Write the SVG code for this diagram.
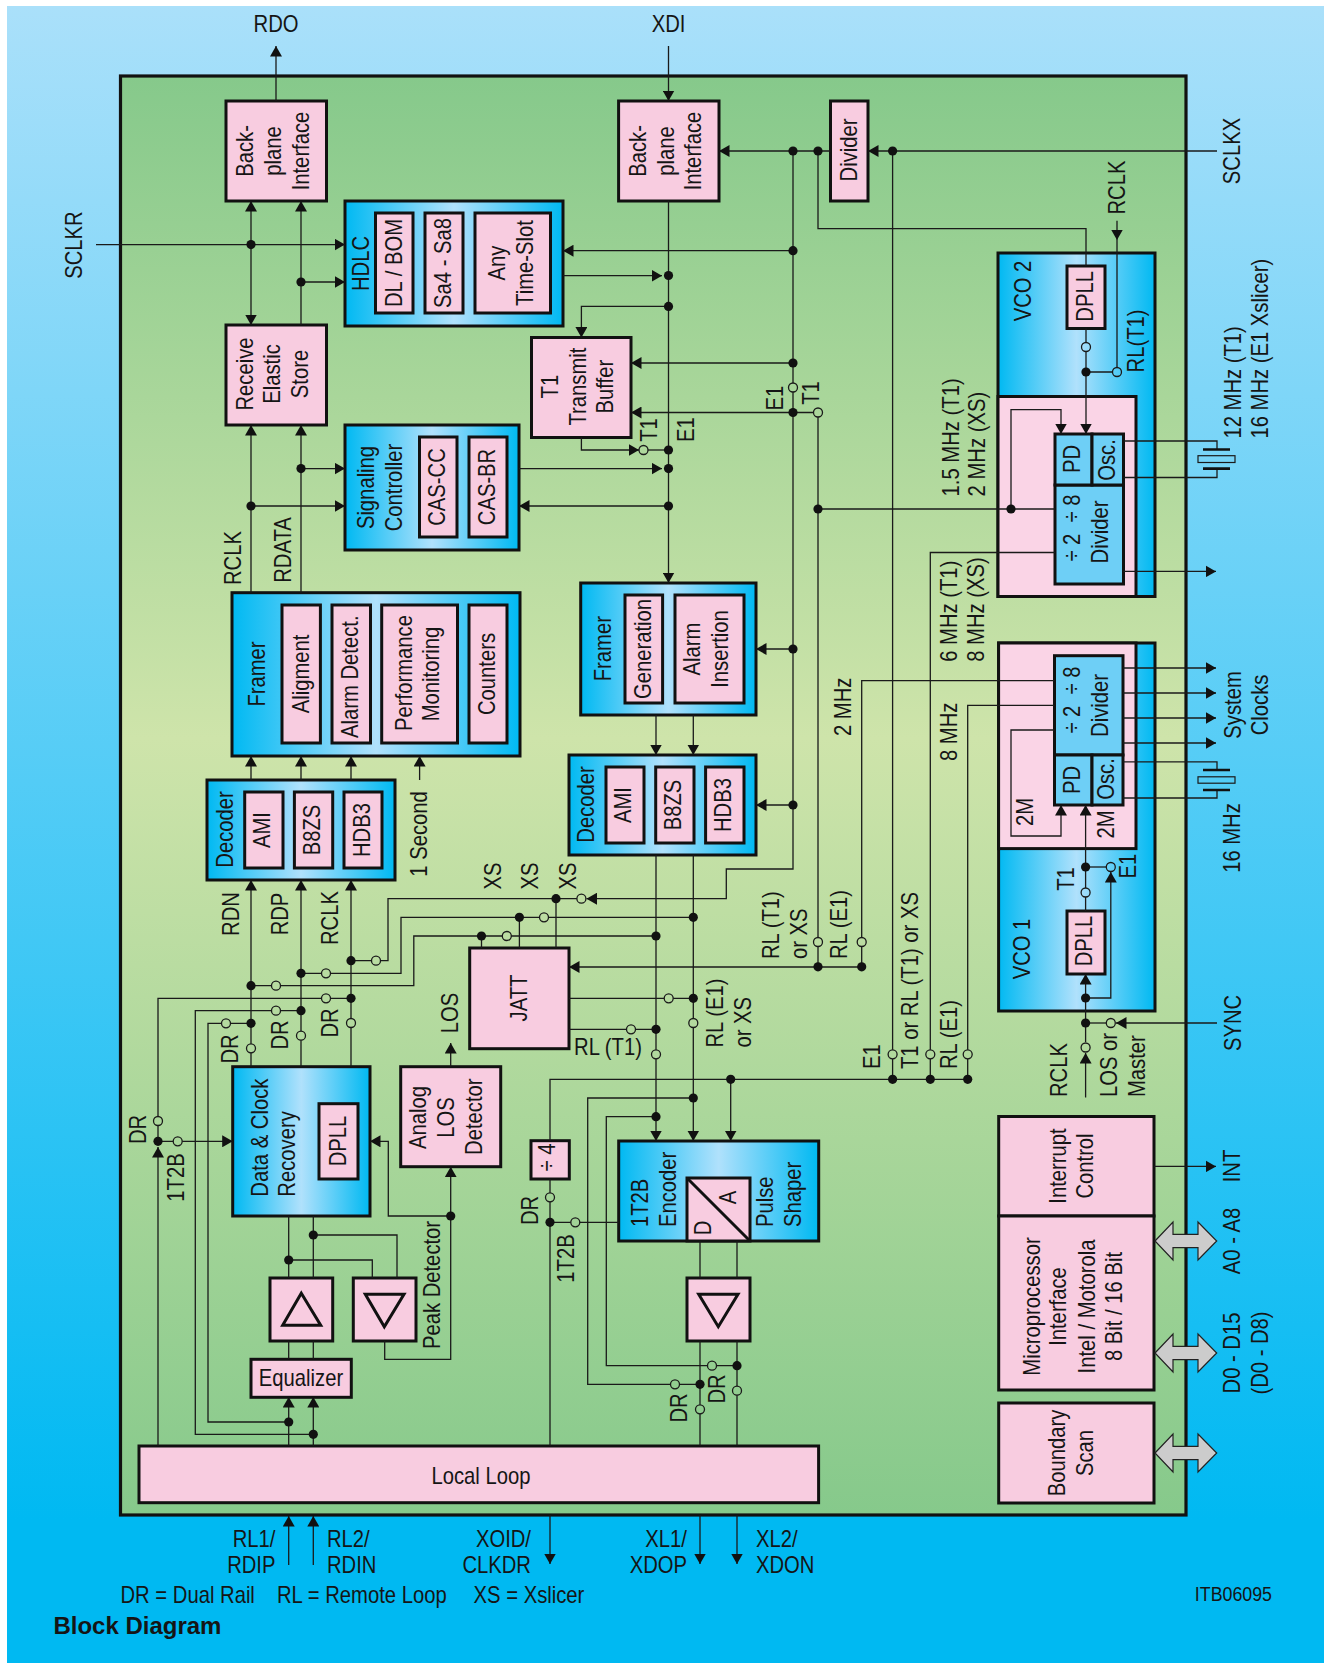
<svg xmlns="http://www.w3.org/2000/svg" width="1326" height="1663" viewBox="0 0 1326 1663">
<defs>
<linearGradient id="bgG" gradientUnits="userSpaceOnUse" x1="0" y1="6" x2="0" y2="1520"><stop offset="0" stop-color="#AAE0FA"/><stop offset="1" stop-color="#00B9F2"/></linearGradient>
<linearGradient id="mainG" gradientUnits="userSpaceOnUse" x1="0" y1="76" x2="0" y2="1515"><stop offset="0" stop-color="#86C98B"/><stop offset=".46" stop-color="#CEE4AA"/><stop offset="1" stop-color="#86C98B"/></linearGradient>
<linearGradient id="cyG"><stop offset="0" stop-color="#00B9F2"/><stop offset=".5" stop-color="#B0E1FC"/><stop offset="1" stop-color="#00B9F2"/></linearGradient>
<linearGradient id="vcoG" gradientUnits="userSpaceOnUse" x1="998" y1="0" x2="1155" y2="0"><stop offset="0" stop-color="#00B9F2"/><stop offset=".5" stop-color="#B0E1FC"/><stop offset="1" stop-color="#00B9F2"/></linearGradient>
<marker id="ah" markerUnits="userSpaceOnUse" markerWidth="11" markerHeight="12" refX="10.5" refY="6" orient="auto-start-reverse"><path d="M0 0L10.5 6L0 12z" fill="#111"/></marker>
<path id="dbl" d="M0 0L18 -19V-6.6H43V-19L61.7 0L43 19V6.6H18V19z" fill="#CCC" stroke="#222" stroke-width="1.2"/>
</defs>
<style>
.b{fill:#F8CCE0;stroke:#111;stroke-width:3}
.c{fill:url(#cyG);stroke:#111;stroke-width:3}
.p{fill:#FAD4E6;stroke:#111;stroke-width:3}
.u{fill:#6ECFF6;stroke:#111;stroke-width:3}
.tri{fill:none;stroke:#111;stroke-width:3}
text{font-family:"Liberation Sans",Arial,Helvetica,sans-serif;font-size:23px;fill:#151515}
.m{text-anchor:middle}
.e{text-anchor:end}
.l{fill:none;stroke:#1a1a1a;stroke-width:1.3}
.a{marker-end:url(#ah)}
.aa{marker-start:url(#ah);marker-end:url(#ah)}
.d{fill:#111}
.o{fill:url(#mainG);stroke:#1a1a1a;stroke-width:1.3}
.o2{fill:url(#vcoG);stroke:#1a1a1a;stroke-width:1.3}
.pl{fill:none;stroke:#111;stroke-width:2.6}
</style>
<rect x="7" y="6" width="1317" height="1657" fill="url(#bgG)"/>
<rect id="chip" x="120.5" y="76" width="1065.5" height="1439" fill="url(#mainG)" stroke="#111" stroke-width="3.2"/>

<g id="bp-r"><rect class="b" x="226" y="101" width="100.5" height="100"/>
<text class="m" transform="translate(253.4 151) rotate(-90) scale(.88 1)">Back-</text>
<text class="m" transform="translate(281.4 151) rotate(-90) scale(.88 1)">plane</text>
<text class="m" transform="translate(309.2 151) rotate(-90) scale(.88 1)">Interface</text></g>
<g id="hdlc"><rect class="c" x="345" y="201" width="218" height="125"/>
<text class="m" transform="translate(369.4 263.5) rotate(-90) scale(.88 1)">HDLC</text>
<rect class="b" x="375.5" y="213" width="37.5" height="100"/><rect class="b" x="425" y="213" width="38" height="100"/><rect class="b" x="475" y="213" width="75.5" height="100"/>
<text class="m" transform="translate(402.2 263) rotate(-90) scale(.88 1)">DL / BOM</text>
<text class="m" transform="translate(451.4 263) rotate(-90) scale(.88 1)">Sa4 - Sa8</text>
<text class="m" transform="translate(505.4 263) rotate(-90) scale(.88 1)">Any</text>
<text class="m" transform="translate(533.4 263) rotate(-90) scale(.88 1)">Time-Slot</text></g>
<g id="res"><rect class="b" x="226" y="325" width="100.5" height="100"/>
<text class="m" transform="translate(253.4 374) rotate(-90) scale(.88 1)">Receive</text>
<text class="m" transform="translate(280.4 374) rotate(-90) scale(.88 1)">Elastic</text>
<text class="m" transform="translate(308.4 374) rotate(-90) scale(.88 1)">Store</text></g>
<g id="sig"><rect class="c" x="345" y="425" width="174" height="125"/>
<rect class="b" x="419.5" y="437" width="37.5" height="100"/><rect class="b" x="469" y="437" width="38" height="100"/>
<text class="m" transform="translate(373.9 487.5) rotate(-90) scale(.88 1)">Signaling</text>
<text class="m" transform="translate(402.4 487.5) rotate(-90) scale(.88 1)">Controller</text>
<text class="m" transform="translate(445.4 487) rotate(-90) scale(.88 1)">CAS-CC</text>
<text class="m" transform="translate(495.4 487) rotate(-90) scale(.88 1)">CAS-BR</text></g>
<g id="t1buf"><rect class="b" x="531.5" y="337.5" width="99.5" height="100"/>
<text class="m" transform="translate(558.4 386.6) rotate(-90) scale(.88 1)">T1</text>
<text class="m" transform="translate(586.4 386.6) rotate(-90) scale(.88 1)">Transmit</text>
<text class="m" transform="translate(613.4 386.6) rotate(-90) scale(.88 1)">Buffer</text></g>
<g id="bp-x"><rect class="b" x="618.6" y="101" width="100.4" height="100"/>
<text class="m" transform="translate(646 151) rotate(-90) scale(.88 1)">Back-</text>
<text class="m" transform="translate(674 151) rotate(-90) scale(.88 1)">plane</text>
<text class="m" transform="translate(700.7 151) rotate(-90) scale(.88 1)">Interface</text></g>
<g id="divider"><rect class="b" x="830.5" y="101" width="37.5" height="100"/>
<text class="m" transform="translate(857.2 150) rotate(-90) scale(.88 1)">Divider</text></g>

<g id="vco2"><rect x="998" y="253" width="157" height="343.5" fill="url(#vcoG)" stroke="#111" stroke-width="3"/>
<rect class="p" x="998" y="396.5" width="138" height="200"/>
<rect class="u" x="1055" y="485" width="68.5" height="99"/><rect class="u" x="1055" y="434" width="37" height="51"/><rect class="u" x="1092" y="434" width="31.5" height="51"/>
<rect class="b" x="1067" y="266" width="38" height="62.5"/>
<text class="m" transform="translate(1031.4 291) rotate(-90) scale(.88 1)">VCO 2</text>
<text class="m" transform="translate(1093.4 296.4) rotate(-90) scale(.88 1)">DPLL</text>
<text class="m" transform="translate(1080 459) rotate(-90) scale(.88 1)">PD</text>
<text class="m" transform="translate(1115.4 460) rotate(-90) scale(.88 1)">Osc.</text>
<text class="m" transform="translate(1080.4 528) rotate(-90) scale(.88 1)">÷ 2 &#160;÷ 8</text>
<text class="m" transform="translate(1108.4 532) rotate(-90) scale(.88 1)">Divider</text></g>

<g id="vco1"><rect x="998.6" y="643" width="156.4" height="368" fill="url(#vcoG)" stroke="#111" stroke-width="3"/>
<rect class="p" x="998.6" y="643" width="137.4" height="205.6"/>
<rect class="u" x="1054.5" y="655.7" width="68.5" height="99.3"/><rect class="u" x="1054.5" y="755" width="37.5" height="50"/><rect class="u" x="1092" y="755" width="31" height="50"/>
<rect class="b" x="1067" y="911" width="38" height="63"/>
<text class="m" transform="translate(1030.4 949) rotate(-90) scale(.88 1)">VCO 1</text>
<text class="m" transform="translate(1092.4 941) rotate(-90) scale(.88 1)">DPLL</text>
<text class="m" transform="translate(1080.4 780) rotate(-90) scale(.88 1)">PD</text>
<text class="m" transform="translate(1114.4 779) rotate(-90) scale(.88 1)">Osc.</text>
<text class="m" transform="translate(1080.4 700) rotate(-90) scale(.88 1)">÷ 2 &#160;÷ 8</text>
<text class="m" transform="translate(1108.4 705.5) rotate(-90) scale(.88 1)">Divider</text>
<text transform="translate(1033.4 826) rotate(-90) scale(.88 1)">2M</text>
<text transform="translate(1114.4 838.5) rotate(-90) scale(.88 1)">2M</text>
<text class="m" transform="translate(1074.4 879) rotate(-90) scale(.88 1)">T1</text>
<text class="m" transform="translate(1136.4 866) rotate(-90) scale(.88 1)">E1</text></g>

<g id="framer-r"><rect class="c" x="232" y="592.7" width="288" height="163.3"/>
<rect class="b" x="282" y="605" width="38.4" height="138"/><rect class="b" x="332" y="605" width="38.5" height="138"/><rect class="b" x="381.7" y="605" width="75.8" height="138"/><rect class="b" x="469" y="605" width="38" height="138"/>
<text class="m" transform="translate(264.9 674) rotate(-90) scale(.88 1)">Framer</text>
<text class="m" transform="translate(308.9 674) rotate(-90) scale(.88 1)">Aligment</text>
<text class="m" transform="translate(358.4 676.7) rotate(-90) scale(.88 1)">Alarm Detect.</text>
<text class="m" transform="translate(412.2 673) rotate(-90) scale(.88 1)">Performance</text>
<text class="m" transform="translate(439 674) rotate(-90) scale(.88 1)">Monitoring</text>
<text class="m" transform="translate(495.4 674) rotate(-90) scale(.88 1)">Counters</text></g>
<g id="decoder-r"><rect class="c" x="207" y="780" width="188" height="100"/>
<rect class="b" x="244.7" y="792" width="38.3" height="76"/><rect class="b" x="294.4" y="792" width="38.3" height="76"/><rect class="b" x="344" y="792" width="38" height="76"/>
<text class="m" transform="translate(233.1 829.5) rotate(-90) scale(.88 1)">Decoder</text>
<text class="m" transform="translate(270.4 830) rotate(-90) scale(.88 1)">AMI</text>
<text class="m" transform="translate(320.4 830) rotate(-90) scale(.88 1)">B8ZS</text>
<text class="m" transform="translate(370.1 830) rotate(-90) scale(.88 1)">HDB3</text></g>
<g id="framer-x"><rect class="c" x="580.7" y="583" width="175.3" height="132"/>
<rect class="b" x="625" y="595" width="37.6" height="108"/><rect class="b" x="675" y="595" width="69" height="108"/>
<text class="m" transform="translate(611.2 648.7) rotate(-90) scale(.88 1)">Framer</text>
<text class="m" transform="translate(651.4 649) rotate(-90) scale(.88 1)">Generation</text>
<text class="m" transform="translate(700.4 649) rotate(-90) scale(.88 1)">Alarm</text>
<text class="m" transform="translate(728.4 649) rotate(-90) scale(.88 1)">Insertion</text></g>
<g id="decoder-x"><rect class="c" x="569" y="755" width="187" height="100"/>
<rect class="b" x="606" y="767" width="38" height="76"/><rect class="b" x="655.7" y="767" width="38.3" height="76"/><rect class="b" x="705.6" y="767" width="38.4" height="76"/>
<text class="m" transform="translate(594 804.5) rotate(-90) scale(.88 1)">Decoder</text>
<text class="m" transform="translate(631.4 805) rotate(-90) scale(.88 1)">AMI</text>
<text class="m" transform="translate(681.4 805) rotate(-90) scale(.88 1)">B8ZS</text>
<text class="m" transform="translate(731.4 805) rotate(-90) scale(.88 1)">HDB3</text></g>
<g id="jatt"><rect class="b" x="469.7" y="948" width="99.3" height="100.7"/>
<text class="m" transform="translate(527 998) rotate(-90) scale(.88 1)">JATT</text></g>
<g id="dcr"><rect class="c" x="232.7" y="1066.7" width="137.3" height="149.3"/>
<rect class="b" x="319" y="1103.7" width="39" height="75.3"/>
<text transform="translate(268.4 1196.7) rotate(-90) scale(.88 1)">Data &amp; Clock</text>
<text transform="translate(295.4 1196.7) rotate(-90) scale(.88 1)">Recovery</text>
<text class="m" transform="translate(346.4 1141) rotate(-90) scale(.88 1)">DPLL</text></g>
<g id="los"><rect class="b" x="400.7" y="1066.7" width="100" height="100"/>
<text class="m" transform="translate(426.4 1117.5) rotate(-90) scale(.88 1)">Analog</text>
<text class="m" transform="translate(454.4 1117.5) rotate(-90) scale(.88 1)">LOS</text>
<text class="m" transform="translate(482.4 1116.7) rotate(-90) scale(.88 1)">Detector</text></g>
<g id="amp-a"><rect class="b" x="270" y="1278" width="62.7" height="63"/><path class="tri" d="M301.3 1293.3L320.7 1325.3H282.7z"/></g>
<g id="amp-b"><rect class="b" x="353.3" y="1278" width="62.7" height="63"/><path class="tri" d="M365.3 1294.3H404L384.3 1326.7z"/></g>
<g id="equalizer"><rect class="b" x="251" y="1359.3" width="100.3" height="38"/><text class="m" transform="translate(301 1386) scale(.88 1)">Equalizer</text></g>
<g id="localloop"><rect class="b" x="139" y="1446" width="679.6" height="56.7"/><text class="m" transform="translate(481 1483.5) scale(.88 1)">Local Loop</text></g>
<g id="div4"><rect class="b" x="531" y="1140.7" width="38.3" height="38.3"/><text class="m" transform="translate(555.1 1157.5) rotate(-90) scale(.88 1)">÷ 4</text></g>
<g id="encoder"><rect class="c" x="618.7" y="1141" width="200" height="100"/>
<rect class="b" x="687" y="1178" width="63" height="63"/><path class="tri" d="M687 1178L750 1241"/>
<text transform="translate(648.4 1227) rotate(-90) scale(.88 1)">1T2B</text>
<text transform="translate(676.4 1227) rotate(-90) scale(.88 1)">Encoder</text>
<text transform="translate(773.4 1227) rotate(-90) scale(.88 1)">Pulse</text>
<text transform="translate(801.1 1227) rotate(-90) scale(.88 1)">Shaper</text>
<text class="m" transform="translate(736.1 1197.5) rotate(-90) scale(.88 1)">A</text>
<text class="m" transform="translate(711.4 1228) rotate(-90) scale(.88 1)">D</text></g>
<g id="amp-x"><rect class="b" x="687" y="1278" width="63" height="63"/><path class="tri" d="M698.7 1294.3H738L718.3 1326.7z"/></g>
<g id="interrupt"><rect class="b" x="998.7" y="1116.5" width="155.3" height="99.5"/>
<text class="m" transform="translate(1066.4 1166) rotate(-90) scale(.88 1)">Interrupt</text>
<text class="m" transform="translate(1093.4 1166) rotate(-90) scale(.88 1)">Control</text></g>
<g id="micro"><rect class="b" x="998.7" y="1216" width="155.3" height="174"/>
<text class="m" transform="translate(1040.1 1306.5) rotate(-90) scale(.88 1)">Microprocessor</text>
<text class="m" transform="translate(1066.4 1306.5) rotate(-90) scale(.88 1)">Interface</text>
<text class="m" transform="translate(1095.4 1306.5) rotate(-90) scale(.88 1)">Intel / Motorola</text>
<text class="m" transform="translate(1122.4 1306.5) rotate(-90) scale(.88 1)">8 Bit / 16 Bit</text></g>
<g id="boundary"><rect class="b" x="998.7" y="1403" width="155.3" height="100"/>
<text class="m" transform="translate(1065.4 1453) rotate(-90) scale(.88 1)">Boundary</text>
<text class="m" transform="translate(1093.4 1453) rotate(-90) scale(.88 1)">Scan</text></g>
<g id="bus-arrows"><use href="#dbl" x="1155" y="1241"/><use href="#dbl" x="1155" y="1353"/><use href="#dbl" x="1155" y="1453"/></g>

<g id="connectors">
<path class="l a" d="M276 101V46"/><path class="l a" d="M668.5 46V101"/><path class="l a" d="M668.5 201V583"/>
<path class="l aa" d="M251 201V325"/><path class="l a" d="M96 244.6H345"/><path class="l a" d="M301 325V201"/><path class="l a" d="M301 282H345"/>
<path class="l a" d="M793 250.7H563"/><path class="l a" d="M563 275.7H662"/>
<path class="l a" d="M251 592.7V425"/><path class="l a" d="M301 592.7V425"/><path class="l a" d="M301 468.6H345"/><path class="l a" d="M251 506H345"/>
<path class="l a" d="M668.5 306.4H581.4V337.5"/><path class="l a" d="M793 363H631"/><path class="l a" d="M793 412.5H631"/>
<path class="l a" d="M581.4 437.5V450H639"/><path class="l" d="M648 450H668.5"/>
<path class="l a" d="M519 468.6H662"/><path class="l a" d="M668.5 506H519"/>
<path class="l a" d="M1217 151H868"/><path class="l a" d="M830.5 151H719"/>
<path class="l a" d="M793 151V869H726.3V898.7H586.5"/><path class="l" d="M577 898.7H388V960.7H350.7"/>
<path class="l" d="M818 151V228.6H1086V266"/><path class="l" d="M892.6 151V1079"/>
<path class="l a" d="M1117 220.7V240"/><path class="l" d="M1117 240V372H1086"/>
<path class="l a" d="M1086 328.5V434"/><path class="l a" d="M1011 509V409.6H1061V434"/><path class="l" d="M818 509H1055"/>
<path class="l" d="M793 412.5H818V966.8"/><path class="l" d="M861.7 966.8V680.7H1054.5"/><path class="l a" d="M861.7 967H569"/>
<path class="l" d="M930.3 1079V552.5H1055"/><path class="l" d="M967.7 1079V705.4H1054.5"/>
<path class="l" d="M550 1141V1079.3H967.7"/><path class="l a" d="M730.7 1079.3V1141"/>
<path class="l a" d="M656 855V1141"/><path class="l a" d="M693.3 855V1141"/>
<path class="l a" d="M656 715V755"/><path class="l a" d="M693.3 715V755"/>
<path class="l a" d="M793 649H756"/><path class="l a" d="M793 805H756"/>
<path class="l" d="M569 998.3H693.3"/><path class="l" d="M569 1029.3H656"/>
<path class="l" d="M556 898.7V948"/>
<path class="l" d="M301.3 973.3H401V917.3H693.3"/><path class="l" d="M519.4 917.3V948"/>
<path class="l" d="M251 985.7H413.8V936H656"/><path class="l" d="M481.5 936V948"/>
<path class="l a" d="M251 1066.7V880"/><path class="l a" d="M301 1066.7V880"/><path class="l a" d="M351 1066.7V880"/>
<path class="l a" d="M251 780V756"/><path class="l a" d="M301 780V756"/><path class="l a" d="M351 780V756"/><path class="l a" d="M419.6 780V756"/>
<path class="l" d="M351 998.3H158V1141.3"/><path class="l a" d="M158 1446V1147"/>
<path class="l" d="M301 1010.7H195.3V1434.3H313.3"/><path class="l" d="M251 1023.3H208V1422H288.7"/>
<path class="l a" d="M158 1141.3H232.7"/>
<path class="l" d="M288.7 1216V1278"/><path class="l" d="M313.3 1216V1278"/><path class="l" d="M313.3 1235H397V1278"/><path class="l" d="M288.7 1260H372.3V1278"/>
<path class="l" d="M288.7 1341V1359"/><path class="l" d="M313.3 1341V1359"/>
<path class="l a" d="M288.7 1446V1397"/><path class="l a" d="M313.3 1446V1397"/>
<path class="l a" d="M288.7 1565V1516"/><path class="l a" d="M313.3 1565V1516"/>
<path class="l a" d="M384.7 1341V1359.3H450.7V1166.7"/><path class="l a" d="M450.7 1216H388.3V1141.3H370"/><path class="l a" d="M450.7 1066.7V1043"/>
<path class="l" d="M700 1241V1278"/><path class="l" d="M737 1241V1278"/><path class="l" d="M700 1341V1446"/><path class="l" d="M737 1341V1446"/>
<path class="l a" d="M550 1515V1564"/><path class="l a" d="M700 1515V1564"/><path class="l a" d="M737 1515V1564"/>
<path class="l" d="M550 1179V1446"/><path class="l" d="M550 1222.3H618.7"/>
<path class="l" d="M737 1365.7H606.3V1116.7H656"/><path class="l" d="M700 1384.3H587.7V1098H693.3"/>
<path class="l a" d="M1085.6 1097.5V1053"/><path class="l a" d="M1085.6 1042V974"/>
<path class="l a" d="M1217 1023H1116"/><path class="l" d="M1106 1023H1085.6"/>
<path class="l a" d="M1085.6 998H1110.8V872"/><path class="l" d="M1106 867H1085.6"/>
<path class="l a" d="M1085.6 911V805"/><path class="l a" d="M1054.5 730H1011V836H1061V805"/>
<path class="l a" d="M1123 571.4H1216"/><path class="l a" d="M1123 668H1216"/><path class="l a" d="M1123 693H1216"/><path class="l a" d="M1123 718H1216"/><path class="l a" d="M1123 743H1216"/>
<path class="l a" d="M1154 1166.4H1216"/>
<path class="l" d="M1123.5 441H1217V449.5"/><path class="l" d="M1123.5 477.5H1217V468.6"/>
<path class="pl" d="M1203 449.5H1230M1203 468.6H1230"/><rect x="1198" y="455.7" width="37" height="6.8" fill="none" stroke="#1a1a1a" stroke-width="1.2"/>
<path class="l" d="M1123 761.8H1217V770"/><path class="l" d="M1123 798H1217V790"/>
<path class="pl" d="M1203 770H1230M1203 790H1230"/><rect x="1198" y="776.8" width="37" height="6.4" fill="none" stroke="#1a1a1a" stroke-width="1.2"/>
<g id="dots">
<circle class="d" r="4.6" cx="251" cy="244.6"/><circle class="d" r="4.6" cx="301" cy="282"/><circle class="d" r="4.6" cx="301" cy="468.6"/><circle class="d" r="4.6" cx="251" cy="506"/>
<circle class="d" r="4.6" cx="668.5" cy="275.5"/><circle class="d" r="4.6" cx="668.5" cy="306.4"/><circle class="d" r="4.6" cx="668.5" cy="450"/><circle class="d" r="4.6" cx="668.5" cy="468.6"/><circle class="d" r="4.6" cx="668.5" cy="506"/>
<circle class="d" r="4.6" cx="793" cy="151"/><circle class="d" r="4.6" cx="818" cy="151"/><circle class="d" r="4.6" cx="892.6" cy="151"/><circle class="d" r="4.6" cx="793" cy="250.7"/><circle class="d" r="4.6" cx="793" cy="363"/><circle class="d" r="4.6" cx="793" cy="412.5"/>
<circle class="d" r="4.6" cx="1086" cy="372"/><circle class="d" r="4.6" cx="1011" cy="509"/><circle class="d" r="4.6" cx="818" cy="509"/>
<circle class="d" r="4.6" cx="793" cy="649"/><circle class="d" r="4.6" cx="793" cy="805"/>
<circle class="d" r="4.6" cx="556" cy="898.7"/><circle class="d" r="4.6" cx="519.4" cy="917.3"/><circle class="d" r="4.6" cx="693.3" cy="917.3"/><circle class="d" r="4.6" cx="481.5" cy="936"/><circle class="d" r="4.6" cx="656" cy="936"/>
<circle class="d" r="4.6" cx="351" cy="960.7"/><circle class="d" r="4.6" cx="301" cy="973.3"/><circle class="d" r="4.6" cx="251" cy="985.7"/><circle class="d" r="4.6" cx="351" cy="998.3"/><circle class="d" r="4.6" cx="301" cy="1010.7"/><circle class="d" r="4.6" cx="251" cy="1023.3"/>
<circle class="d" r="4.6" cx="693.3" cy="998.3"/><circle class="d" r="4.6" cx="656" cy="1029.3"/><circle class="d" r="4.6" cx="818" cy="966.8"/><circle class="d" r="4.6" cx="861.7" cy="966.8"/>
<circle class="d" r="4.6" cx="730.7" cy="1079.3"/><circle class="d" r="4.6" cx="892.6" cy="1079.3"/><circle class="d" r="4.6" cx="930.3" cy="1079.3"/><circle class="d" r="4.6" cx="967.7" cy="1079.3"/>
<circle class="d" r="4.6" cx="693.3" cy="1098"/><circle class="d" r="4.6" cx="656" cy="1116.7"/><circle class="d" r="4.6" cx="550" cy="1222.3"/><circle class="d" r="4.6" cx="737" cy="1365.7"/><circle class="d" r="4.6" cx="700" cy="1384.3"/>
<circle class="d" r="4.6" cx="158" cy="1141.3"/><circle class="d" r="4.6" cx="313.3" cy="1235"/><circle class="d" r="4.6" cx="288.7" cy="1260"/><circle class="d" r="4.6" cx="450.7" cy="1216"/><circle class="d" r="4.6" cx="288.7" cy="1422"/><circle class="d" r="4.6" cx="313.3" cy="1434.3"/>
<circle class="d" r="4.6" cx="1085.6" cy="1023"/><circle class="d" r="4.6" cx="1085.6" cy="998"/><circle class="d" r="4.6" cx="1085.6" cy="867"/>
<circle class="o" r="4.5" cx="643.5" cy="450"/><circle class="o" r="4.5" cx="793" cy="387.5"/><circle class="o" r="4.5" cx="818" cy="412.5"/><circle class="o2" r="4.5" cx="1086" cy="347"/><circle class="o2" r="4.5" cx="1117" cy="372"/>
<circle class="o" r="4.5" cx="581.4" cy="898.7"/><circle class="o" r="4.5" cx="544" cy="917.3"/><circle class="o" r="4.5" cx="506.8" cy="936"/><circle class="o" r="4.5" cx="376" cy="960.7"/><circle class="o" r="4.5" cx="326" cy="973.3"/><circle class="o" r="4.5" cx="276" cy="985.7"/>
<circle class="o" r="4.5" cx="326" cy="998.3"/><circle class="o" r="4.5" cx="276" cy="1010.7"/><circle class="o" r="4.5" cx="226" cy="1023.3"/><circle class="o" r="4.5" cx="351" cy="1023"/><circle class="o" r="4.5" cx="301" cy="1035.7"/><circle class="o" r="4.5" cx="251" cy="1048.3"/>
<circle class="o" r="4.5" cx="668.7" cy="998.3"/><circle class="o" r="4.5" cx="631" cy="1029.3"/><circle class="o" r="4.5" cx="693.3" cy="1023"/><circle class="o" r="4.5" cx="656" cy="1054.3"/>
<circle class="o" r="4.5" cx="818" cy="942"/><circle class="o" r="4.5" cx="861.7" cy="942"/><circle class="o" r="4.5" cx="892.6" cy="1054.3"/><circle class="o" r="4.5" cx="930.3" cy="1054.3"/><circle class="o" r="4.5" cx="967.7" cy="1054.3"/>
<circle class="o" r="4.5" cx="158" cy="1121"/><circle class="o" r="4.5" cx="177.7" cy="1141.3"/><circle class="o" r="4.5" cx="550" cy="1197.3"/><circle class="o" r="4.5" cx="575.3" cy="1222.3"/>
<circle class="o" r="4.5" cx="712" cy="1365.7"/><circle class="o" r="4.5" cx="675" cy="1384.3"/><circle class="o" r="4.5" cx="737" cy="1390.7"/><circle class="o" r="4.5" cx="700" cy="1409.3"/>
<circle class="o" r="4.5" cx="1085.6" cy="1047.5"/><circle class="o" r="4.5" cx="1110.8" cy="1023"/><circle class="o2" r="4.5" cx="1085.6" cy="892.5"/><circle class="o2" r="4.5" cx="1110.8" cy="867"/>
</g>
</g>

<g id="labels">
<text class="m" transform="translate(276 32) scale(.88 1)">RDO</text>
<text class="m" transform="translate(668.5 32) scale(.88 1)">XDI</text>
<text class="m" transform="translate(82.1 245) rotate(-90) scale(.88 1)">SCLKR</text>
<text class="m" transform="translate(1240.4 151) rotate(-90) scale(.88 1)">SCLKX</text>
<text class="m" transform="translate(241.4 558) rotate(-90) scale(.88 1)">RCLK</text>
<text class="m" transform="translate(291.4 550) rotate(-90) scale(.88 1)">RDATA</text>
<text class="m" transform="translate(657.2 430) rotate(-90) scale(.88 1)">T1</text>
<text class="m" transform="translate(694.4 429.6) rotate(-90) scale(.88 1)">E1</text>
<text class="m" transform="translate(783.2 398) rotate(-90) scale(.88 1)">E1</text>
<text class="m" transform="translate(819.1 393) rotate(-90) scale(.88 1)">T1</text>
<text class="m" transform="translate(1125.4 187.5) rotate(-90) scale(.88 1)">RCLK</text>
<text class="m" transform="translate(1144.4 341) rotate(-90) scale(.88 1)">RL(T1)</text>
<text transform="translate(1241.4 438.6) rotate(-90) scale(.88 1)">12 MHz (T1)</text>
<text transform="translate(1268.4 438.6) rotate(-90) scale(.88 1)">16 MHz (E1 Xslicer)</text>
<text transform="translate(959.4 496.4) rotate(-90) scale(.88 1)">1.5 MHz (T1)</text>
<text transform="translate(985.4 496.4) rotate(-90) scale(.88 1)">2 MHz (XS)</text>
<text transform="translate(957.1 661.8) rotate(-90) scale(.88 1)">6 MHz (T1)</text>
<text transform="translate(984.2 661.8) rotate(-90) scale(.88 1)">8 MHz (XS)</text>
<text transform="translate(850.9 736) rotate(-90) scale(.88 1)">2 MHz</text>
<text transform="translate(957.1 761) rotate(-90) scale(.88 1)">8 MHz</text>
<text class="m" transform="translate(1241.4 705) rotate(-90) scale(.88 1)">System</text>
<text class="m" transform="translate(1268.4 705) rotate(-90) scale(.88 1)">Clocks</text>
<text class="m" transform="translate(1240.4 838) rotate(-90) scale(.88 1)">16 MHz</text>
<text class="m" transform="translate(1241.4 1023) rotate(-90) scale(.88 1)">SYNC</text>
<text transform="translate(1067.4 1097) rotate(-90) scale(.88 1)">RCLK</text>
<text transform="translate(1117.4 1097) rotate(-90) scale(.88 1)">LOS or</text>
<text transform="translate(1145.4 1097) rotate(-90) scale(.88 1)">Master</text>
<text transform="translate(779.4 959) rotate(-90) scale(.88 1)">RL (T1)</text>
<text transform="translate(807.4 959) rotate(-90) scale(.88 1)">or XS</text>
<text transform="translate(847.4 959) rotate(-90) scale(.88 1)">RL (E1)</text>
<text transform="translate(723.4 1047.5) rotate(-90) scale(.88 1)">RL (E1)</text>
<text transform="translate(751.4 1047.5) rotate(-90) scale(.88 1)">or XS</text>
<text transform="translate(880 1069) rotate(-90) scale(.88 1)">E1</text>
<text transform="translate(918 1069) rotate(-90) scale(.88 1)">T1 or RL (T1) or XS</text>
<text transform="translate(957.1 1069) rotate(-90) scale(.88 1)">RL (E1)</text>
<text class="m" transform="translate(427.4 834) rotate(-90) scale(.88 1)">1 Second</text>
<text class="m" transform="translate(238.9 914) rotate(-90) scale(.88 1)">RDN</text>
<text class="m" transform="translate(288.4 914) rotate(-90) scale(.88 1)">RDP</text>
<text class="m" transform="translate(338.4 918) rotate(-90) scale(.88 1)">RCLK</text>
<text class="m" transform="translate(501 876) rotate(-90) scale(.88 1)">XS</text>
<text class="m" transform="translate(538.4 876) rotate(-90) scale(.88 1)">XS</text>
<text class="m" transform="translate(576 876) rotate(-90) scale(.88 1)">XS</text>
<text class="m" transform="translate(238.4 1049) rotate(-90) scale(.88 1)">DR</text>
<text class="m" transform="translate(288.4 1035) rotate(-90) scale(.88 1)">DR</text>
<text class="m" transform="translate(338.4 1023) rotate(-90) scale(.88 1)">DR</text>
<text class="m" transform="translate(458.1 1013) rotate(-90) scale(.88 1)">LOS</text>
<text class="m" transform="translate(608 1055) scale(.88 1)">RL (T1)</text>
<text class="m" transform="translate(440.1 1285) rotate(-90) scale(.88 1)">Peak Detector</text>
<text class="m" transform="translate(146.1 1129.5) rotate(-90) scale(.88 1)">DR</text>
<text class="m" transform="translate(184.1 1177.5) rotate(-90) scale(.88 1)">1T2B</text>
<text class="m" transform="translate(538.4 1210.5) rotate(-90) scale(.88 1)">DR</text>
<text class="m" transform="translate(574.4 1258.5) rotate(-90) scale(.88 1)">1T2B</text>
<text class="m" transform="translate(687.4 1408) rotate(-90) scale(.88 1)">DR</text>
<text class="m" transform="translate(725.1 1389) rotate(-90) scale(.88 1)">DR</text>
<text class="m" transform="translate(1240.1 1166) rotate(-90) scale(.88 1)">INT</text>
<text class="m" transform="translate(1240.1 1241) rotate(-90) scale(.88 1)">A0 - A8</text>
<text class="m" transform="translate(1240.1 1353) rotate(-90) scale(.88 1)">D0 - D15</text>
<text class="m" transform="translate(1268.4 1353) rotate(-90) scale(.88 1)">(D0 - D8)</text>
<text class="e" transform="translate(275.5 1546.5) scale(.88 1)">RL1/</text>
<text class="e" transform="translate(275.5 1573) scale(.88 1)">RDIP</text>
<text transform="translate(327 1546.5) scale(.88 1)">RL2/</text>
<text transform="translate(327 1573) scale(.88 1)">RDIN</text>
<text class="e" transform="translate(531 1546.5) scale(.88 1)">XOID/</text>
<text class="e" transform="translate(531 1573) scale(.88 1)">CLKDR</text>
<text class="e" transform="translate(687 1546.5) scale(.88 1)">XL1/</text>
<text class="e" transform="translate(687 1573) scale(.88 1)">XDOP</text>
<text transform="translate(756 1546.5) scale(.88 1)">XL2/</text>
<text transform="translate(756 1573) scale(.88 1)">XDON</text>
<text transform="translate(120.5 1602.5) scale(.88 1)">DR = Dual Rail</text>
<text transform="translate(277 1602.5) scale(.88 1)">RL = Remote Loop</text>
<text transform="translate(473.6 1602.5) scale(.88 1)">XS = Xslicer</text>
<text x="53.4" y="1634" style="font-weight:bold;font-size:24px">Block Diagram</text>
<text class="e" transform="translate(1272 1601) scale(.89 1)" style="font-size:20px">ITB06095</text>
</g>
</svg>
